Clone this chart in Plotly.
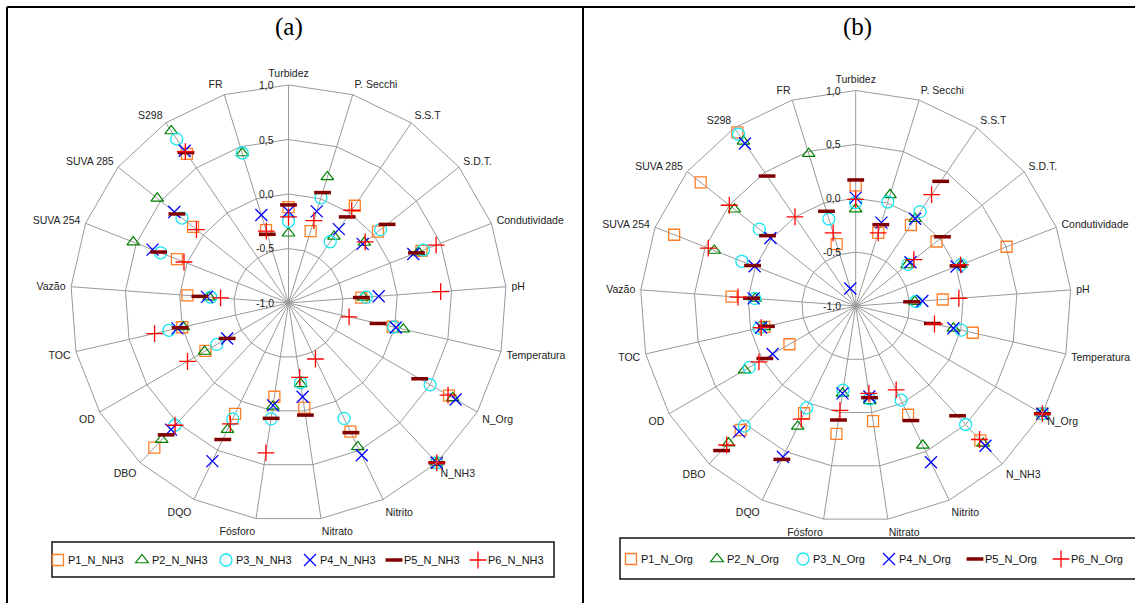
import plotly.graph_objects as go

W, H = 1135, 603

categories = ["Turbidez", "P. Secchi", "S.S.T", "S.D.T.", "Condutividade", "pH",
              "Temperatura", "N_Org", "N_NH3", "Nitrito", "Nitrato", "Fósforo",
              "DQO", "DBO", "OD", "TOC", "Vazão", "SUVA 254", "SUVA 285", "S298", "FR"]

# Panel (a): correlations with N_NH3
p1_nh3 = [-0.12, -0.31, 0.08, 0.05, 0.31, -0.33, -0.02, 0.70, 1.00, 0.31, -0.03, -0.13, 0.13, 0.81, -0.12, 0.00, -0.07, 0.10, 0.12, 0.655, -0.30]
p2_nh3 = [-0.36, 0.21, -0.26, -0.11, 0.28, -0.31, 0.08, 0.74, 1.00, 0.465, -0.25, -0.04, 0.29, 0.71, -0.11, -0.01, -0.27, 0.53, 0.54, 0.91, 0.44]
p3_nh3 = [-0.25, 0.01, -0.32, 0.08, 0.33, -0.285, -0.01, 0.50, 1.00, 0.175, -0.26, 0.075, 0.18, 0.53, -0.24, 0.125, -0.285, 0.26, 0.25, 0.82, 0.44]
p4_nh3 = [-0.16, -0.12, -0.18, -0.13, 0.23, -0.17, 0.01, 0.77, 1.00, 0.55, -0.13, -0.05, 0.61, 0.585, -0.35, 0.045, -0.25, 0.34, 0.34, 0.69, -0.155]
p5_nh3 = [-0.10, 0.06, -0.044, 0.157, 0.26, -0.33, -0.157, 0.39, 1.00, 0.32, 0.04, 0.07, 0.39, 0.65, -0.35, 0.02, -0.185, 0.28, 0.31, 0.67, -0.34]
p6_nh3 = [-0.21, -0.21, 0.03, -0.10, 0.455, 0.40, -0.43, 0.69, 1.00, -0.43, -0.31, 0.39, 0.23, 0.53, 0.07, 0.26, -0.375, 0.03, 0.08, 0.68, -0.31]

# Panel (b): correlations with N_Org
p1_org = [0.12, -0.29, -0.09, -0.04, 0.505, -0.19, 0.115, 1.00, 0.70, 0.12, 0.08, 0.20, 0.105, 0.57, -0.29, -0.13, 0.155, 0.81, 0.84, 0.95, -0.40]
p2_org = [-0.10, 0.08, -0.02, -0.39, 0.05, -0.45, -0.07, 1.00, 0.74, 0.435, -0.11, -0.18, 0.24, 0.735, 0.19, -0.13, -0.065, 0.41, 0.44, 0.85, 0.48]
p3_org = [-0.04, 0.01, 0.06, -0.38, 0.048, -0.44, 0.005, 1.00, 0.50, -0.03, -0.13, -0.21, 0.05, 0.52, 0.14, -0.08, -0.06, 0.135, 0.144, 0.93, -0.155]
p4_org = [0.006, -0.19, -0.02, -0.35, 0.005, -0.38, -0.07, 1.00, 0.77, 0.61, -0.15, -0.18, 0.555, 0.59, -0.11, -0.10, -0.05, 0.008, 0.012, 0.825, -0.83]
p5_org = [0.17, -0.21, 0.40, 0.03, 0.02, -0.48, -0.27, 1.00, 0.39, 0.18, -0.14, 0.07, 0.58, 0.83, -0.026, -0.15, -0.03, 0.028, 0.047, 0.46, -0.08]
p6_org = [-0.01, -0.29, 0.25, -0.31, 0.045, -0.04, -0.25, 1.00, 0.69, -0.135, -0.18, -0.02, 0.165, 0.76, 0.037, -0.10, 0.095, 0.47, 0.50, 0.00, -0.29]

radial_ticks = [-1.0, -0.5, 0.0, 0.5, 1.0]
radial_ticktext = ["-1,0", "-0,5", "0,0", "0,5", "1,0"]

# Plotly hides points with polygon grids when the radial range starts below zero,
# so the correlation scale [-1, 1] is drawn on a radial axis shifted by +1.
SHIFT = 1.0
R_MIN, R_MAX = radial_ticks[0] + SHIFT, radial_ticks[-1] + SHIFT

styles = [
    dict(symbol="square-open", size=11, color="#FF7F27", line=dict(width=1.3, color="#FF7F27")),
    dict(symbol="triangle-up-open", size=11, color="#008000", line=dict(width=1.2, color="#008000")),
    dict(symbol="circle-open", size=12, color="#19E6F0", line=dict(width=1.3, color="#19E6F0")),
    dict(symbol="x-thin-open", size=12, color="#0000FF", line=dict(width=1.3, color="#0000FF")),
    dict(symbol="line-ew-open", size=12, color="#800000", line=dict(width=3.5, color="#800000")),
    dict(symbol="cross-thin-open", size=12, color="#FF0000", line=dict(width=1.3, color="#FF0000")),
]

fig = go.Figure()

series_a = [("P1_N_NH3", p1_nh3), ("P2_N_NH3", p2_nh3), ("P3_N_NH3", p3_nh3),
            ("P4_N_NH3", p4_nh3), ("P5_N_NH3", p5_nh3), ("P6_N_NH3", p6_nh3)]
series_b = [("P1_N_Org", p1_org), ("P2_N_Org", p2_org), ("P3_N_Org", p3_org),
            ("P4_N_Org", p4_org), ("P5_N_Org", p5_org), ("P6_N_Org", p6_org)]

for sub, leg, series in (("polar", "legend", series_a), ("polar2", "legend2", series_b)):
    for (name, vals), st in zip(series, styles):
        fig.add_trace(go.Scatterpolar(
            r=[v + SHIFT for v in vals], theta=categories, customdata=vals,
            hovertemplate="%{theta}: %{customdata:.2f}<extra>" + name + "</extra>",
            mode="markers", name="", legendgroup=name, meta=name,
            marker=st, subplot=sub, legend=leg, cliponaxis=False))

font = dict(family="Liberation Sans, Arial, sans-serif", size=10.5, color="#222222")
GRID = "#9A9A9A"

# polar geometry in pixels: centre and outer radius
GEO_A = dict(cx=288.5, cy=303.0, R=218.0)
GEO_B = dict(cx=855.7, cy=306.0, R=215.5)


def polar_cfg(g):
    cx, cy, R = g["cx"], g["cy"], g["R"]
    x0, x1 = (cx - R) / W, (cx + R) / W
    y0, y1 = (H - (cy + R)) / H, (H - (cy - R)) / H
    return dict(
        domain=dict(x=[x0, x1], y=[y0, y1]),
        gridshape="linear",
        bgcolor="white",
        radialaxis=dict(range=[R_MIN, R_MAX],
                        tickvals=[t + SHIFT for t in radial_ticks], ticktext=radial_ticktext,
                        angle=90, showticklabels=False,
                        showline=False, ticks="",
                        showgrid=True, gridcolor=GRID, gridwidth=1),
        angularaxis=dict(type="category", categoryarray=categories, direction="clockwise",
                         rotation=90, showgrid=True, gridcolor=GRID, gridwidth=1,
                         showline=True, linecolor=GRID, linewidth=1,
                         ticks="outside", ticklen=3, tickcolor="rgba(0,0,0,0)",
                         tickfont=font),
    )


LEG_FONT = dict(family="Liberation Sans, Arial, sans-serif", size=11, color="#111111")
legend_common = dict(orientation="h", font=dict(family="Liberation Sans, Arial, sans-serif", size=11),
                     bgcolor="rgba(0,0,0,0)", borderwidth=0,
                     xanchor="left", yanchor="middle", entrywidthmode="pixels",
                     itemwidth=30, itemclick=False, itemdoubleclick=False)

# legend geometry (pixels): first symbol centre, spacing, row centre
LEG_A = dict(sym0=57, step=84, yc=560)
LEG_B = dict(sym0=630, step=86, yc=559)
SYM_OFF = 19   # distance from legend anchor to first symbol centre in plotly
TXT_OFF = 9    # distance from symbol centre to label start

fig.update_layout(
    width=W, height=H,
    margin=dict(l=0, r=0, t=0, b=0),
    paper_bgcolor="white",
    plot_bgcolor="white",
    polar=polar_cfg(GEO_A),
    polar2=polar_cfg(GEO_B),
    legend=dict(x=(LEG_A["sym0"] - SYM_OFF) / W, y=(H - LEG_A["yc"]) / H,
                entrywidth=LEG_A["step"] - 45, **legend_common),
    legend2=dict(x=(LEG_B["sym0"] - SYM_OFF) / W, y=(H - LEG_B["yc"]) / H,
                 entrywidth=LEG_B["step"] - 45, **legend_common),
    showlegend=True,
)

# radial tick labels, to the left of the vertical (Turbidez) axis at each ring level
for g in (GEO_A, GEO_B):
    for t, txt in zip(radial_ticks, radial_ticktext):
        frac = (t + SHIFT - R_MIN) / (R_MAX - R_MIN)
        ypx = g["cy"] - frac * g["R"]
        fig.add_annotation(text=txt, x=(g["cx"] - 13) / W, y=(H - ypx) / H,
                           xref="paper", yref="paper", xanchor="right", yanchor="middle",
                           showarrow=False, font=font)

# legend labels next to the legend symbols
for leg, series in ((LEG_A, series_a), (LEG_B, series_b)):
    for i, (name, _) in enumerate(series):
        fig.add_annotation(text=name, x=(leg["sym0"] + TXT_OFF + i * leg["step"]) / W,
                           y=(H - leg["yc"]) / H, xref="paper", yref="paper",
                           xanchor="left", yanchor="middle", showarrow=False, font=LEG_FONT)

# legend boxes
box = dict(color="#111111", width=1.5)
fig.add_shape(type="rect", xref="paper", yref="paper", x0=52 / W, x1=554 / W,
              y0=(H - 577) / H, y1=(H - 542) / H, line=box)
fig.add_shape(type="rect", xref="paper", yref="paper", x0=620 / W, x1=1150 / W,
              y0=(H - 579) / H, y1=(H - 538) / H, line=box)

# Panel frames
frame = dict(color="black", width=2)
fig.add_shape(type="line", xref="paper", yref="paper", x0=7 / W, x1=1.0, y0=(H - 7) / H, y1=(H - 7) / H, line=frame)
fig.add_shape(type="line", xref="paper", yref="paper", x0=7 / W, x1=7 / W, y0=0, y1=(H - 7) / H, line=frame)
fig.add_shape(type="line", xref="paper", yref="paper", x0=583 / W, x1=583 / W, y0=0, y1=(H - 7) / H, line=frame)

title_font = dict(family="Liberation Serif, Times New Roman, serif", size=25, color="black")
fig.add_annotation(text="(a)", x=288.5 / W, y=(H - 27) / H, xref="paper", yref="paper",
                   showarrow=False, font=title_font, xanchor="center", yanchor="middle")
fig.add_annotation(text="(b)", x=857 / W, y=(H - 27) / H, xref="paper", yref="paper",
                   showarrow=False, font=title_font, xanchor="center", yanchor="middle")

fig.write_html("out.html")
